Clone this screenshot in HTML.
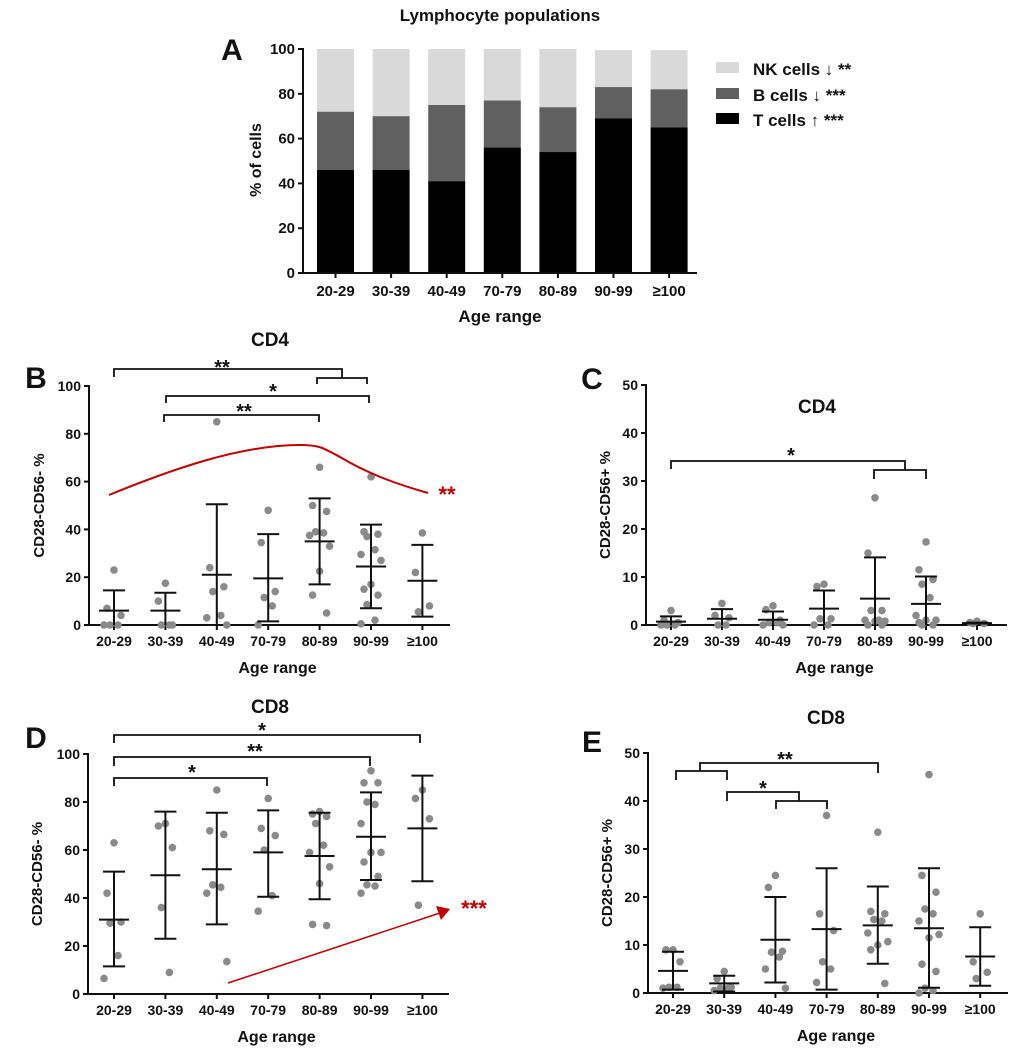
<!DOCTYPE html>
<html><head><meta charset="utf-8"><style>
body{margin:0;background:#fff;}
svg{display:block;font-family:"Liberation Sans",Arial,sans-serif;font-weight:bold;}
</style></head><body>
<svg id="fig" width="1020" height="1050" viewBox="0 0 1020 1050"></svg>
<script>
const cats=["20-29","30-39","40-49","70-79","80-89","90-99","≥100"];
// Panel A
const aT=[46,46,41,56,54,69,65];
const aB=[72,70,75,77,74,83,82];
const aNK=[100,100,100,100,100,99.5,99.5];
const aTicks=[0,20,40,60,80,100];
// Panel B
const bData=[[23,7,4,0,0,0],[17.5,10,0,0,0],[85,24,16,14,4,3,0],[48,34.5,14,11.5,8,0],[66,50,47.5,39,37.5,38.5,33,22.5,12.5,5],[62,38,37,39,31.5,29.5,27,17,15,12.5,8.5,2,0.5],[38.5,22,8,5.5]];
const bMean=[6,6,21,19.5,35,24.5,18.5];
const bUp=[14.5,13.5,50.5,38,53,42,33.5];
const bLo=[-3,-2,-9,1.5,17,7,3.5];
// Panel C
const cData=[[3,1,0.5,0,0,0],[4.5,2,1.5,0,0],[4,3.2,1,0.5,0.5,0,0],[8.5,8,1.3,1.3,0,0],[26.5,15,3,3,1,1,0.8,0.8,0,0],[17.3,11.5,9.5,8.5,5.7,2,1,1,0.5,0,0],[0.5,0.3,0.3,0.8]];
const cMean=[0.7,1.3,1.1,3.4,5.5,4.4,0.4];
const cUp=[1.8,3.3,2.8,7.2,14.1,10.1,0.5];
const cLo=[-0.4,-0.7,-0.6,-0.4,-3,-1.3,0.3];
// Panel D
const dData=[[63,42,30,29.5,16,6.5],[71,70,61,36,9],[85,68,66.5,45.5,44.5,42,13.5],[81.5,69,66,60,41,34.5],[76,75,74,71,62,59,53,46,29,28.5],[93,88,88,80,79,71,59,59,55,49,45.5,45,42],[85,81.5,73,37]];
const dMean=[31,49.5,52,59,57.5,65.5,69];
const dUp=[51,76,75.5,76.5,75.5,84,91];
const dLo=[11.5,23,29,40.5,39.5,47.5,47];
// Panel E
const eData=[[9,9,6.5,1.2,1.2,1],[4.5,3,1.2,1,1,0.5],[24.5,22,8.7,8.5,7.5,5,1],[37,16.5,13,6.5,5,2.2],[33.5,17,16.5,15.3,15,12.5,10.7,10,9,2],[45.5,24.5,21,17.5,16.5,15,12.2,11.5,6,4.5,1,0.5,0],[16.5,6.5,4.3,3]];
const eMean=[4.6,2,11.1,13.3,14.1,13.5,7.6];
const eUp=[8.6,3.6,20,26,22.2,26,13.7];
const eLo=[0.7,0.3,2.2,0.7,6.1,1.1,1.5];
const ticks100=[0,20,40,60,80,100];
const ticks50=[0,10,20,30,40,50];

const NS="http://www.w3.org/2000/svg";
const svg=document.getElementById('fig');
function mk(tag,attrs,parent,text){const e=document.createElementNS(NS,tag);for(const k in attrs)e.setAttribute(k,attrs[k]);if(text!==undefined)e.textContent=text;(parent||svg).appendChild(e);return e;}
function line(g,x1,y1,x2,y2,c,w){return mk('line',{x1,y1,x2,y2,stroke:c||'#111','stroke-width':w||2},g);}
function txt(g,x,y,s,size,anchor,fill){return mk('text',{x,y,'font-size':size,'text-anchor':anchor||'middle',fill:fill||'#111'},g,s);}

// ---- Panel A
(function(){
 const g=mk('g',{});
 
 
 const x0=303,y0=273,y100=49;
 const y=v=>y0-(v/100)*(y0-y100);
 const xc=i=>335.5+i*55.6;
 const bw=37;
 txt(g,500,21,"Lymphocyte populations",17);
 txt(g,232,60,"A",30);
 for(let i=0;i<cats.length;i++){
  const cx=xc(i);
  const r1=mk('rect',{x:cx-bw/2,y:y(aNK[i]),width:bw,height:y(aB[i])-y(aNK[i]),fill:'#d9d9d9'},g);
  
  
  const r2=mk('rect',{x:cx-bw/2,y:y(aB[i]),width:bw,height:y(aT[i])-y(aB[i]),fill:'#606060'},g);
  
  
  const r3=mk('rect',{x:cx-bw/2,y:y(aT[i]),width:bw,height:y0-y(aT[i]),fill:'#000'},g);
  
  
  line(g,cx,y0,cx,y0+5);
  txt(g,cx,296,cats[i],15);
 }
 line(g,x0,y100-1,x0,y0+1);
 line(g,x0,y0,697,y0);
 aTicks.forEach(t=>{line(g,x0-5,y(t),x0,y(t));txt(g,x0-8,y(t)+5,t,15,'end');});
 const yl=txt(g,0,0,"% of cells",16);yl.setAttribute('transform','translate(261,160) rotate(-90)');
 txt(g,500,322,"Age range",17);
 const leg=[["#d9d9d9","NK cells ↓ **",62],["#606060","B cells ↓ ***",88],["#000","T cells ↑ ***",113]];
 leg.forEach(l=>{const r=mk('rect',{x:716,y:l[2],width:23,height:11,fill:l[0]},g);
  
  const t=txt(g,753,l[2]+13,l[1],17,'start');});
})();

// ---- Dot plot panel
function dotPanel(o){
 const g=mk('g',{});
 
 
 const y=v=>o.y0-(v/o.max)*(o.y0-o.ytop);
 const xc=i=>o.xf+i*o.dx;
 txt(g,o.titleX,o.titleY,o.title,19);
 txt(g,o.letterX,o.letterY,o.letter,30);
 line(g,o.ax,o.ytop-1,o.ax,o.y0+1);
 line(g,o.ax,o.y0,o.axEnd,o.y0);
 o.ticks.forEach(t=>{line(g,o.ax-5,y(t),o.ax,y(t));txt(g,o.ax-8,y(t)+5,t,14,'end');});
 const yl=txt(g,0,0,o.ylabel,15);yl.setAttribute('transform','translate('+o.ylx+','+((o.ytop+o.y0)/2)+') rotate(-90)');
 txt(g,(o.ax+o.axEnd)/2+8,o.y0+48,"Age range",16);
 const jit=[0,-7,7,-4,4,-10,10];
 for(let i=0;i<cats.length;i++){
  const x=xc(i);
  line(g,x,o.y0,x,o.y0+5);
  txt(g,x,o.y0+21,cats[i],14);
  const vals=o.data[i].slice().sort((a,b)=>b-a);
  vals.forEach((v,j)=>{const c=mk('circle',{cx:x+jit[j%jit.length],cy:y(v),r:3.8,fill:'#8a8a8a'},g);
   });
  const lo=Math.max(0,o.lo[i]);
  const eb=mk('g',{},g);
  
  
  line(eb,x,y(o.up[i]),x,y(lo));
  line(eb,x-11,y(o.up[i]),x+11,y(o.up[i]));
  if(o.lo[i]>0)line(eb,x-11,y(o.lo[i]),x+11,y(o.lo[i]));
  line(eb,x-15,y(o.mean[i]),x+15,y(o.mean[i]));
 }
 (o.brackets||[]).forEach(b=>{const p=mk('path',{d:b.d,fill:'none',stroke:'#111','stroke-width':1.8},g);
  
  txt(g,b.sx,b.sy,b.s,20);});
 return g;
}
dotPanel({name:'panel-b-cd4-cd28-cd56-neg',data:bData,mean:bMean,up:bUp,lo:bLo,max:100,ticks:ticks100,y0:625,ytop:386,ax:89,axEnd:450,xf:114,dx:51.4,
 title:"CD4",titleX:270,titleY:346,letter:"B",letterX:36,letterY:388,ylabel:"CD28-CD56- %",ylx:44,
 brackets:[{d:"M114 377V369H342V378M317 384V378H367V384",s:"**",sx:222,sy:374},
 {d:"M166 403V396H369V403",s:"*",sx:273,sy:398},{d:"M164 422V415H319V422",s:"**",sx:244,sy:418}]});
dotPanel({name:'panel-c-cd4-cd28-cd56-pos',data:cData,mean:cMean,up:cUp,lo:cLo,max:50,ticks:ticks50,y0:625,ytop:385,ax:646,axEnd:1007,xf:671,dx:51,
 title:"CD4",titleX:817,titleY:413,letter:"C",letterX:592,letterY:389,ylabel:"CD28-CD56+ %",ylx:610,
 brackets:[{d:"M671 469V461H905V470M874 479V470H926V479",s:"*",sx:791,sy:462}]});
dotPanel({name:'panel-d-cd8-cd28-cd56-neg',data:dData,mean:dMean,up:dUp,lo:dLo,max:100,ticks:ticks100,y0:994,ytop:754,ax:88,axEnd:449,xf:114,dx:51.4,
 title:"CD8",titleX:270,titleY:713,letter:"D",letterX:36,letterY:748,ylabel:"CD28-CD56- %",ylx:42,
 brackets:[{d:"M114 743V735H420V743",s:"*",sx:262,sy:737},{d:"M114 766V757H370V766",s:"**",sx:255,sy:758},{d:"M114 786V778H267V786",s:"*",sx:192,sy:779}]});
dotPanel({name:'panel-e-cd8-cd28-cd56-pos',data:eData,mean:eMean,up:eUp,lo:eLo,max:50,ticks:ticks50,y0:993,ytop:753,ax:648,axEnd:1008,xf:673,dx:51.2,
 title:"CD8",titleX:826,titleY:724,letter:"E",letterX:592,letterY:752,ylabel:"CD28-CD56+ %",ylx:612,
 brackets:[{d:"M676 780V771H727V780M700 771V763H878V773",s:"**",sx:785,sy:766},{d:"M727 801V792H799V801M776 809V801H827V809",s:"*",sx:763,sy:795}]});
// red annotations
const ra=mk('path',{d:"M109 495C170 470 240 445 300 445C318 445 322 447 340 457C370 475 400 485 428 493",fill:'none',stroke:'#c00000','stroke-width':2});

txt(svg,447,502,"**",22,'middle','#c00000');
const al=line(svg,228,983,440,913,'#c00000',1.5);

mk('path',{d:"M450 909L436 906L441 920Z",fill:'#c00000'});
txt(svg,474,916,"***",22,'middle','#c00000');
</script>
</body></html>
